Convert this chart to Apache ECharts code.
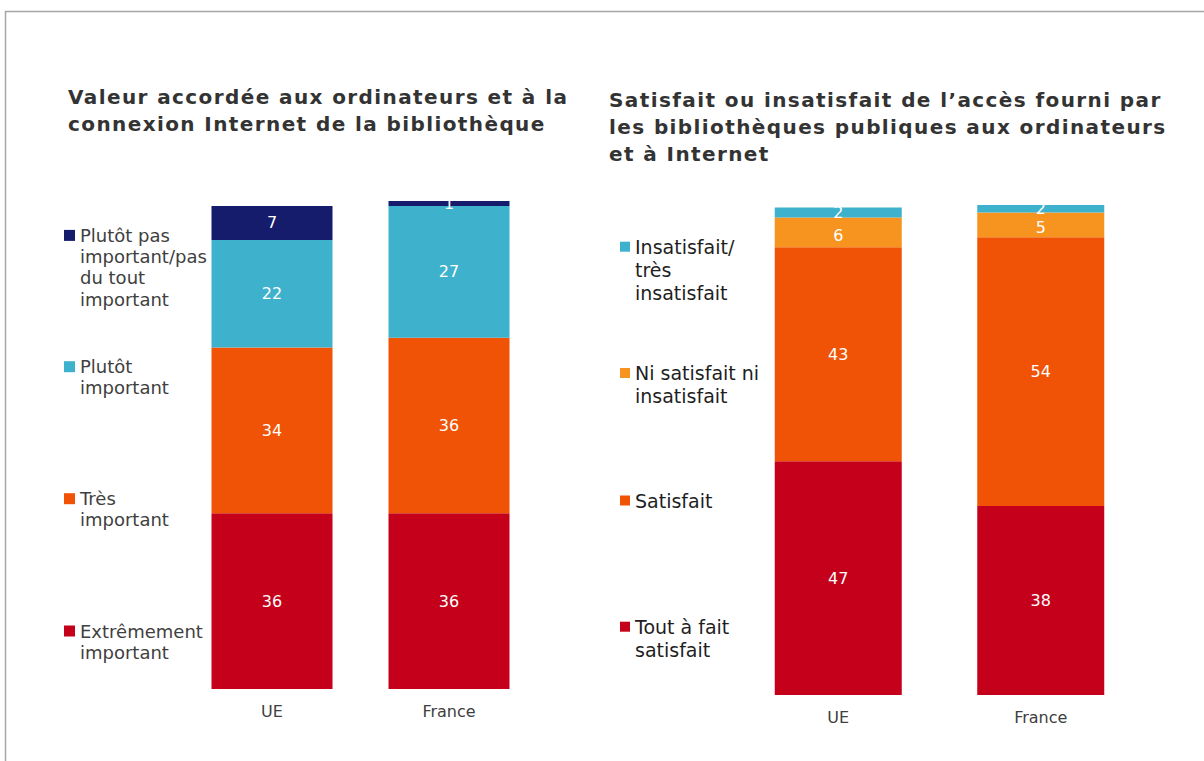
<!DOCTYPE html>
<html>
<head>
<meta charset="utf-8">
<script src="https://cdn.jsdelivr.net/npm/echarts@6/dist/echarts.min.js"></script>
<style>
html, body { margin: 0; padding: 0; background: #fff; }
#view { width: 1204px; height: 761px; }
/* titres un peu espacés comme dans l'original */
#view text[style*="bold"] { letter-spacing: 1.4px; }
</style>
</head>
<body>
<div id="view"></div>
<script>
var myChart = echarts.init(document.getElementById('view'), null, { renderer: 'svg' });

/* catégories */
var categories = ['UE', 'France'];

/* graphique de gauche : valeur accordée (du bas vers le haut) */
var leftNames = [
    'Extrêmement\nimportant',
    'Très\nimportant',
    'Plutôt\nimportant',
    'Plutôt pas\nimportant/pas\ndu tout\nimportant'
];
var leftExtremement = [36, 36];
var leftTres = [34, 36];
var leftPlutot = [22, 27];
var leftPlutotPas = [7, 1];

/* graphique de droite : satisfaction (du bas vers le haut) */
var rightNames = [
    'Tout à fait\nsatisfait',
    'Satisfait',
    'Ni satisfait ni\ninsatisfait',
    'Insatisfait/\ntrès\ninsatisfait'
];
var rightToutAFait = [47, 38];
var rightSatisfait = [43, 54];
var rightNi = [6, 5];
var rightInsatisfait = [2, 2];

var leftColors = ['#C5001A', '#F05206', '#3EB1CD', '#141C6B'];
var rightColors = ['#C5001A', '#F05206', '#F7931F', '#3EB1CD'];

/* centre de la première ligne de chaque entrée de légende */
var leftLegendY = [631, 498.7, 366.7, 235.4];
var rightLegendY = [626.7, 500.5, 373, 246.7];

var font = 'DejaVu Sans';

function makeSeries(names, values, colors, idx, barWidth, labelDy) {
    return names.map(function (name, i) {
        return {
            name: name,
            type: 'bar',
            stack: 'pile' + idx,
            xAxisIndex: idx,
            yAxisIndex: idx,
            barWidth: barWidth,
            data: values[i],
            itemStyle: { color: colors[i] },
            label: {
                show: true,
                position: 'inside',
                offset: [0, labelDy ? labelDy[i] : 0],
                color: '#fff',
                fontFamily: font,
                fontSize: 16
            },
            emphasis: { disabled: true }
        };
    });
}

// le carré de légende est centré sur le bloc de texte : on ajoute des lignes vides
// au-dessus pour qu'il tombe sur la première ligne
function makeLegends(names, ys, left, lh, size, color, icon) {
    return names.map(function (name, i) {
        var n = name.split('\n').length;
        return {
            data: [name],
            left: left,
            top: ys[i] - (2 * n - 1) * lh / 2,
            orient: 'vertical',
            padding: 0,
            icon: 'rect',
            itemWidth: icon,
            itemHeight: icon,
            selectedMode: false,
            formatter: function (s) {
                return new Array(n).join('\n') + s;
            },
            textStyle: {
                fontFamily: font,
                fontSize: size,
                color: color,
                lineHeight: lh
            }
        };
    });
}

var titleStyle = {
    fontFamily: font,
    fontWeight: 'bold',
    fontSize: 20,
    lineHeight: 27.1,
    color: '#333'
};

var axisLabel = { color: '#404040', fontFamily: font, fontSize: 16 };

option = {
    animation: false,
    title: [{
        text: 'Valeur accordée aux ordinateurs et à la\nconnexion Internet de la bibliothèque',
        left: 68, top: 83, padding: 0,
        textStyle: titleStyle
    }, {
        text: 'Satisfait ou insatisfait de l’accès fourni par\nles bibliothèques publiques aux ordinateurs\net à Internet',
        left: 609, top: 86.5, padding: 0,
        textStyle: titleStyle
    }],
    legend: makeLegends(leftNames, leftLegendY, 64, 21.3, 18, '#404040', 11)
        .concat(makeLegends(rightNames, rightLegendY, 620, 23.4, 19, '#1e1e1e', 10)),
    grid: [
        { left: 183.5, width: 354, top: 201, height: 488 },
        { left: 737, width: 405, top: 205, height: 490 }
    ],
    xAxis: [0, 1].map(function (i) {
        return {
            type: 'category',
            gridIndex: i,
            data: categories,
            axisLine: { show: false },
            axisTick: { show: false },
            axisLabel: Object.assign({ margin: i === 0 ? 14.5 : 14 }, axisLabel)
        };
    }),
    yAxis: [
        { type: 'value', gridIndex: 0, min: 0, max: 100, show: false },
        { type: 'value', gridIndex: 1, min: 0, max: 98.5, show: false }
    ],
    graphic: [
        { type: 'line', shape: { x1: 5, y1: 11.5, x2: 1204, y2: 11.5 }, style: { stroke: '#A6A6A6', lineWidth: 1.5 } },
        { type: 'line', shape: { x1: 5.5, y1: 11, x2: 5.5, y2: 761 }, style: { stroke: '#A6A6A6', lineWidth: 1.5 } }
    ],
    series: makeSeries(leftNames, [leftExtremement, leftTres, leftPlutot, leftPlutotPas], leftColors, 0, 121)
        .concat(makeSeries(rightNames, [rightToutAFait, rightSatisfait, rightNi, rightInsatisfait], rightColors, 1, 127, [0, 0, 3, 0]))
};

myChart.setOption(option);
</script>
</body>
</html>
